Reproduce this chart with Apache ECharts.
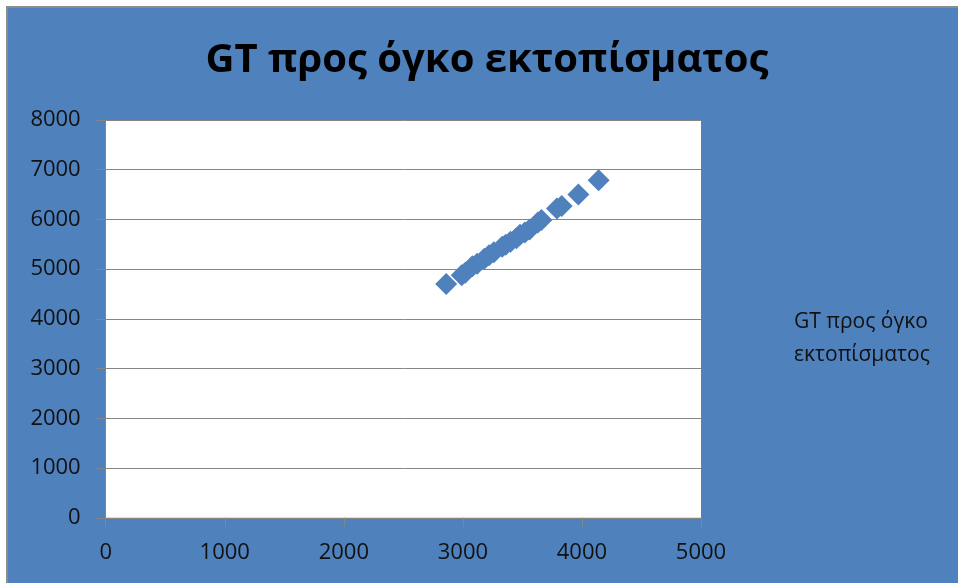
<!DOCTYPE html>
<html>
<head>
<meta charset="utf-8">
<script src="https://cdn.jsdelivr.net/npm/echarts@6/dist/echarts.min.js"></script>
<style>
  html, body { margin: 0; padding: 0; background: #ffffff; }
  #frame {
    position: absolute; left: 6px; top: 6px; width: 952px; height: 577px;
    border-left: 2px solid #8c8c8c; border-top: 2px solid #8c8c8c; box-sizing: border-box;
  }
  #chart { width: 950px; height: 575px; }
</style>
</head>
<body>
<div id="frame"><div id="chart"></div></div>
<script>
// Displacement volume (x) against gross tonnage (y)
const displacement = [2860, 2990, 3020, 3080, 3120, 3180, 3220, 3260, 3330, 3360, 3400, 3450, 3480, 3520, 3560, 3630, 3660, 3790, 3830, 3970, 4140];
const grossTonnage = [4700, 4880, 4930, 5060, 5110, 5210, 5280, 5340, 5450, 5490, 5550, 5620, 5690, 5740, 5800, 5940, 5990, 6220, 6270, 6500, 6790];
const xTicks = [0, 1000, 2000, 3000, 4000, 5000];
const yTicks = [0, 1000, 2000, 3000, 4000, 5000, 6000, 7000, 8000];
const seriesName = 'GT προς όγκο εκτοπίσματος';
const titleText = 'GT προς όγκο εκτοπίσματος';

const points = displacement.map((x, i) => [x, grossTonnage[i]]);

const chart = echarts.init(document.getElementById('chart'));
const axisGray = '#868686';
const font = 'Open Sans';
const plain = v => String(v);

chart.setOption({
  backgroundColor: '#4F81BD',
  animation: false,
  title: {
    text: titleText,
    left: 474, top: 28, textAlign: 'center',
    textStyle: { fontFamily: font, fontWeight: 'bold', fontSize: 40, color: '#000000' }
  },
  legend: {
    left: 765, top: 276,
    icon: 'diamond', itemWidth: 11, itemHeight: 11,
    formatter: () => 'GT προς όγκο\nεκτοπίσματος',
    textStyle: { fontFamily: font, fontSize: 21, color: '#111111', lineHeight: 33, padding: [33, 0, 0, 0] },
    data: [seriesName]
  },
  grid: {
    left: 97.7, right: 257, top: 112, bottom: 65.2,
    show: true, backgroundColor: '#ffffff', borderWidth: 0
  },
  xAxis: {
    type: 'value', min: xTicks[0], max: xTicks[xTicks.length - 1], interval: 1000,
    axisLine: { show: true, lineStyle: { color: axisGray, width: 1 } },
    axisTick: { show: true, length: 9, lineStyle: { color: axisGray } },
    splitLine: { show: false },
    axisLabel: { margin: 24, fontFamily: font, fontSize: 22, color: '#111111', formatter: plain }
  },
  yAxis: {
    type: 'value', min: yTicks[0], max: yTicks[yTicks.length - 1], interval: 1000,
    axisLine: { show: true, lineStyle: { color: axisGray, width: 1 } },
    axisTick: { show: true, length: 9, lineStyle: { color: axisGray } },
    splitLine: { show: true, lineStyle: { color: axisGray, width: 1 } },
    axisLabel: { margin: 25, fontFamily: font, fontSize: 22, color: '#111111', formatter: plain }
  },
  series: [{
    name: seriesName,
    type: 'scatter',
    symbol: 'diamond',
    symbolSize: 22,
    itemStyle: { color: '#4F81BD', opacity: 1 },
    data: points
  }]
});
</script>
</body>
</html>
